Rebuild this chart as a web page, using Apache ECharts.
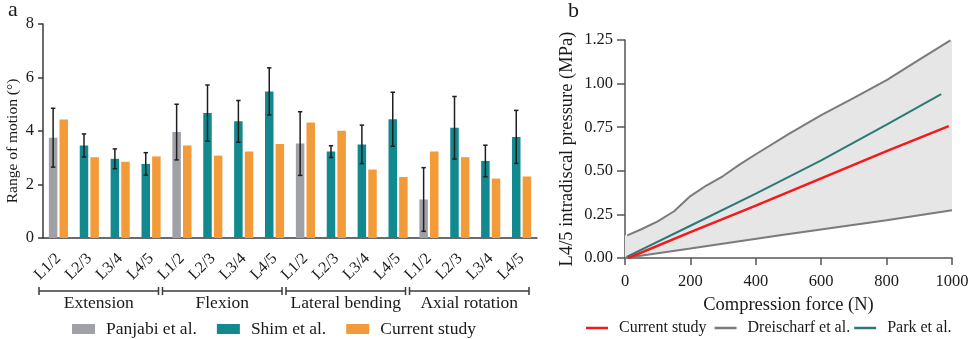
<!DOCTYPE html>
<html>
<head>
<meta charset="utf-8">
<script src="https://cdn.jsdelivr.net/npm/echarts@6/dist/echarts.min.js"></script>
<style>html,body{margin:0;padding:0;background:#fff}#c{width:969px;height:339px}</style>
</head>
<body>
<div id="c"></div>
<script>
// ---------- Panel a data ----------
const levels = ['L1/2','L2/3','L3/4','L4/5','L1/2','L2/3','L3/4','L4/5','L1/2','L2/3','L3/4','L4/5','L1/2','L2/3','L3/4','L4/5'];
const motionGroups = ['Extension','Flexion','Lateral bending','Axial rotation'];
const groupStart = [0,4,8,12];
const groupEnd = [3,7,11,15];
const panjabiMean = [3.75,null,null,null, 3.96,null,null,null, 3.53,null,null,null, 1.44,null,null,null];
const panjabiSD   = [1.10,null,null,null, 1.04,null,null,null, 1.19,null,null,null, 1.19,null,null,null];
const shimMean = [null,3.46,2.96,2.77, null,4.67,4.36,5.48, null,3.23,3.50,4.44, null,4.12,2.88,3.78];
const shimSD   = [null,0.43,0.37,0.42, null,1.05,0.78,0.88, null,0.22,0.72,1.01, null,1.17,0.59,0.99];
const currentRom = [4.43,3.02,2.85,3.05, 3.46,3.08,3.23,3.51, 4.32,4.01,2.56,2.28, 3.23,3.02,2.22,2.30];
const romTicks = [0,2,4,6,8];

// ---------- Panel b data ----------
const forceCurrent = [10,200,400,600,800,990];
const pressureCurrent = [0.0,0.148,0.300,0.457,0.613,0.756];
const forcePark = [5,200,400,600,800,967];
const pressurePark = [0.006,0.185,0.369,0.560,0.765,0.940];
const forceUpper = [7,50,100,150,200,250,300,350,400,500,600,700,800,900,995];
const pressureUpper = [0.13,0.165,0.21,0.268,0.355,0.417,0.47,0.535,0.595,0.71,0.819,0.918,1.02,1.137,1.248];
const forceLower = [0,200,474,800,1000];
const pressureLower = [0.0,0.054,0.130,0.216,0.274];

const FONT = 'Liberation Serif';
const TXT = '#1a1a1a';
const BAR_W = 8.5;
const GAP_RATIO = 0.25;
const ERR_OFFSET = (BAR_W + BAR_W*GAP_RATIO)/2;

const zip = (a,b) => a.map((v,i)=>[v,b[i]]);
const toBar = arr => arr.map(v => v==null ? '-' : v);

const errData = [];
for (let i=0;i<levels.length;i++){
  if (panjabiMean[i]!=null) errData.push([i,panjabiMean[i],panjabiSD[i]]);
  else if (shimMean[i]!=null) errData.push([i,shimMean[i],shimSD[i]]);
}
const groupData = motionGroups.map((g,i)=>[groupStart[i], 0, groupEnd[i]]);

const chart = echarts.init(document.getElementById('c'), null, {renderer:'canvas'});
chart.setOption({
  animation:false,
  textStyle:{fontFamily:FONT,color:TXT},
  title:[
    {text:'a',left:3,top:-6,textStyle:{fontFamily:FONT,fontSize:22,fontWeight:'normal',color:TXT}},
    {text:'b',left:563,top:-5,textStyle:{fontFamily:FONT,fontSize:22,fontWeight:'normal',color:TXT}}
  ],
  legend:[
    {left:67,top:315,itemWidth:23,itemHeight:10,itemGap:20,icon:'rect',
     data:['Panjabi et al.','Shim et al.','Current study'],
     textStyle:{fontFamily:FONT,fontSize:17.5,color:TXT,padding:[0,0,0,6]},selectedMode:false},
    {left:581,top:315,itemWidth:22,itemHeight:2.5,itemGap:4,icon:'rect',
     data:['Current study ','Dreischarf et al.','Park et al.'],
     textStyle:{fontFamily:FONT,fontSize:16,color:TXT,padding:[0,0,0,6]},selectedMode:false}
  ],
  grid:[
    {left:43,top:24,width:494,height:214,containLabel:false,outerBoundsMode:'none'},
    {left:625,top:40,width:327,height:218,containLabel:false,outerBoundsMode:'none'}
  ],
  xAxis:[
    {type:'category',gridIndex:0,data:levels,
     axisLine:{lineStyle:{color:'#3a3a3a',width:1.5}},
     axisTick:{alignWithLabel:true,length:7,lineStyle:{color:'#3a3a3a',width:1.5}},
     axisLabel:{rotate:45,margin:18,fontFamily:FONT,fontSize:16,color:TXT,interval:0}},
    {type:'value',gridIndex:1,min:0,max:1000,interval:200,
     name:'Compression force (N)',nameLocation:'middle',nameGap:38,nameMoveOverlap:false,
     nameTextStyle:{fontFamily:FONT,fontSize:18.5,color:TXT},
     splitLine:{show:false},
     axisLine:{show:true,lineStyle:{color:'#555',width:1.5}},
     axisTick:{show:true,length:7,lineStyle:{color:'#555',width:1.5}},
     axisLabel:{fontFamily:FONT,fontSize:16.5,color:TXT,margin:15,formatter:v=>String(v)}}
  ],
  yAxis:[
    {type:'value',gridIndex:0,min:romTicks[0],max:romTicks[romTicks.length-1],interval:2,
     name:'Range of motion (°)',nameLocation:'middle',nameGap:22,nameMoveOverlap:false,
     nameTextStyle:{fontFamily:FONT,fontSize:15.5,color:TXT,padding:[0,0,0,-20]},
     splitLine:{show:false},
     axisLine:{show:true,lineStyle:{color:'#3a3a3a',width:1.5}},
     axisTick:{show:true,length:5,lineStyle:{color:'#3a3a3a',width:1.5}},
     axisLabel:{fontFamily:FONT,fontSize:16.5,color:TXT,margin:9}},
    {type:'value',gridIndex:1,min:0,max:1.25,interval:0.25,
     name:'L4/5 intradiscal pressure (MPa)',nameLocation:'middle',nameGap:48,nameMoveOverlap:false,
     nameTextStyle:{fontFamily:FONT,fontSize:18.5,color:TXT},
     splitLine:{show:false},
     axisLine:{show:true,lineStyle:{color:'#555',width:1.5}},
     axisTick:{show:true,length:8,lineStyle:{color:'#555',width:1.5}},
     axisLabel:{fontFamily:FONT,fontSize:16.5,color:TXT,margin:12,formatter:v=>v.toFixed(2)}}
  ],
  series:[
    {name:'Panjabi et al.',type:'bar',xAxisIndex:0,yAxisIndex:0,stack:'ref',
     barWidth:BAR_W,barGap:(GAP_RATIO*100)+'%',data:toBar(panjabiMean),itemStyle:{color:'#a0a0a7'}},
    {name:'Shim et al.',type:'bar',xAxisIndex:0,yAxisIndex:0,stack:'ref',
     barWidth:BAR_W,barGap:(GAP_RATIO*100)+'%',data:toBar(shimMean),itemStyle:{color:'#12898f'}},
    {name:'Current study',type:'bar',xAxisIndex:0,yAxisIndex:0,
     barWidth:BAR_W,barGap:(GAP_RATIO*100)+'%',data:toBar(currentRom),itemStyle:{color:'#f39a39'}},
    {name:'errbars',type:'custom',xAxisIndex:0,yAxisIndex:0,data:errData,z:5,
     renderItem:(params,api)=>{
       const idx=api.value(0),m=api.value(1),sd=api.value(2);
       const x=api.coord([idx,m])[0]-ERR_OFFSET;
       const t=api.coord([idx,m+sd])[1], b=api.coord([idx,m-sd])[1];
       const st={stroke:'#1e1e1e',lineWidth:1.5};
       return {type:'group',children:[
         {type:'line',shape:{x1:x,y1:t,x2:x,y2:b},style:st},
         {type:'line',shape:{x1:x-2.2,y1:t,x2:x+2.2,y2:t},style:st},
         {type:'line',shape:{x1:x-2.2,y1:b,x2:x+2.2,y2:b},style:st}
       ]};
     }},
    {name:'groups',type:'custom',xAxisIndex:0,yAxisIndex:0,data:groupData,clip:false,silent:true,
     renderItem:(params,api)=>{
       const s=api.value(0),e=api.value(2);
       const bw=api.size([1,0])[0];
       const y0=api.coord([s,0])[1];
       const x1=api.coord([s,0])[0]-bw/2-4;
       const x2=api.coord([e,0])[0]+bw/2-8;
       const y=y0+53;
       const st={stroke:'#3a3a3a',lineWidth:1.5};
       return {type:'group',children:[
         {type:'line',shape:{x1:x1,y1:y,x2:x2,y2:y},style:st},
         {type:'line',shape:{x1:x1,y1:y-4,x2:x1,y2:y+4},style:st},
         {type:'line',shape:{x1:x2,y1:y-4,x2:x2,y2:y+4},style:st},
         {type:'text',x:(x1+x2)/2,y:y+12,style:{text:motionGroups[params.dataIndex],
           fontFamily:FONT,fontSize:17.5,fill:TXT,align:'center',verticalAlign:'middle'}}
       ]};
     }},
    // Panel b
    {name:'band',type:'custom',xAxisIndex:1,yAxisIndex:1,data:[[0,0]],silent:true,z:1,clip:false,
     renderItem:(params,api)=>{
       const pts=[];
       pts.push(api.coord([0,pressureUpper[0]]));
       forceUpper.forEach((f,i)=>pts.push(api.coord([f,pressureUpper[i]])));
       pts.push(api.coord([1000,pressureUpper[pressureUpper.length-1]]));
       for(let i=forceLower.length-1;i>=0;i--) pts.push(api.coord([forceLower[i],pressureLower[i]]));
       return {type:'polygon',shape:{points:pts},style:{fill:'#e6e6e6'}};
     }},
    {name:'Dreischarf et al.',type:'line',xAxisIndex:1,yAxisIndex:1,symbol:'none',z:3,
     data:zip(forceUpper,pressureUpper),lineStyle:{color:'#7b7b7b',width:2},itemStyle:{color:'#7b7b7b'}},
    {name:'Dreischarf et al.',type:'line',xAxisIndex:1,yAxisIndex:1,symbol:'none',z:3,
     data:zip(forceLower,pressureLower),lineStyle:{color:'#7b7b7b',width:2},itemStyle:{color:'#7b7b7b'}},
    {name:'Park et al.',type:'line',xAxisIndex:1,yAxisIndex:1,symbol:'none',z:4,
     data:zip(forcePark,pressurePark),lineStyle:{color:'#2b7a78',width:2},itemStyle:{color:'#2b7a78'}},
    {name:'Current study ',type:'line',xAxisIndex:1,yAxisIndex:1,symbol:'none',z:5,
     data:zip(forceCurrent,pressureCurrent),lineStyle:{color:'#f51a1a',width:2.5},itemStyle:{color:'#f51a1a'}}
  ]
});
</script>
</body>
</html>
